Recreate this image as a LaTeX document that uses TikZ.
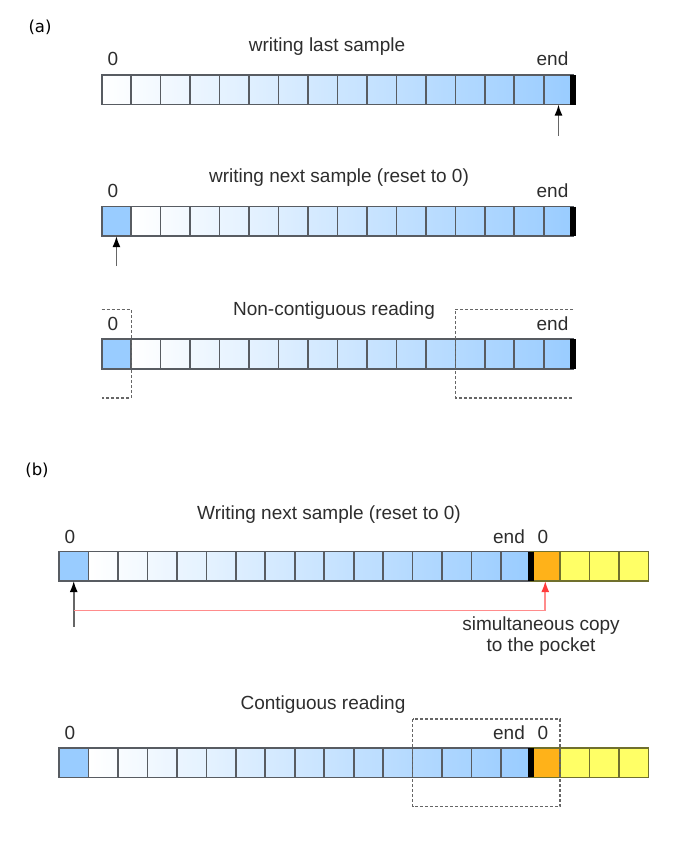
\documentclass[tikz,border=0pt]{standalone}
\usepackage{fontspec}
\setmainfont{Liberation Sans}
\newfontfamily\tagfont{DejaVu Sans}
\usepackage{tikz}
\usetikzlibrary{arrows,arrows.meta,positioning}

\definecolor{cellblue}{RGB}{153,204,255}
\definecolor{pocket}{RGB}{255,178,25}
\definecolor{spare}{RGB}{255,255,102}
\definecolor{copyline}{RGB}{255,140,140}
\definecolor{copyhead}{RGB}{255,60,60}
\definecolor{txt}{RGB}{45,45,45}
\definecolor{celledge}{RGB}{88,92,98}
\definecolor{spareedge}{RGB}{112,112,45}

\tikzset{
	cell/.style={minimum size=29.47pt, inner sep=0pt, outer sep=0pt},
	edge/.style={draw=celledge, line width=1.6pt},
	spareline/.style={draw=spareedge, line width=1.6pt},
	caption/.style={font=\fontsize{19}{22}\selectfont, text=txt, inner sep=0pt},
	tag/.style={font=\tagfont\fontsize{16.5}{20}\selectfont, inner sep=0pt},
	ptr/.style={draw=black!60, line width=1.6pt, -{Latex[length=11pt,width=8pt,color=black]}},
	copy/.style={draw=copyline, line width=1.6pt, -{Latex[length=11pt,width=8pt,color=copyhead]}},
	window/.style={draw=black!60, line width=1.1pt, dash pattern=on 3pt off 2pt},
	endmark/.style={line width=6pt, draw=black},
}

\begin{document}
\begin{tikzpicture}[x=1pt, y=-1pt]
	\useasboundingbox (0,0) rectangle (688,842);

	% (a)
	\node[tag] (taga) at (40,27) {(a)};

	% writing last sample
	\node[caption] (wltitle) at (327,47) {writing last sample};
	\foreach \i in {1,...,16} {
		\pgfmathtruncatemacro\lo{100*(\i-1)/16}
		\pgfmathtruncatemacro\hi{100*\i/16}
		\node[cell, left color=cellblue!\lo!white, right color=cellblue!\hi!white] (wl\i) at ({101.7+(\i-0.5)*29.47}, 89.8) {};
	}
	\foreach \i in {1,...,16} \draw[edge] (wl\i.north west) rectangle (wl\i.south east);
	\draw[endmark] (wl16.north east) -- (wl16.south east);
	\node[caption] (wlzero) at (113,59) {0};
	\node[caption] (wlend) at (552.5,59) {end};
	\coordinate (wlptr) at (wl16.south |- 0,136);
	\draw[ptr] (wlptr) -- (wl16.south);

	% writing next sample
	\node[caption] (wntitle) at (339,178) {writing next sample (reset to 0)};
	\node[cell, fill=cellblue] (wn1) at ({101.7+0.5*29.47}, 221.4) {};
	\foreach \i in {2,...,16} {
		\pgfmathtruncatemacro\lo{100*(\i-2)/15}
		\pgfmathtruncatemacro\hi{100*(\i-1)/15}
		\node[cell, left color=cellblue!\lo!white, right color=cellblue!\hi!white] (wn\i) at ({101.7+(\i-0.5)*29.47}, 221.4) {};
	}
	\foreach \i in {1,...,16} \draw[edge] (wn\i.north west) rectangle (wn\i.south east);
	\draw[endmark] (wn16.north east) -- (wn16.south east);
	\node[caption] (wnzero) at (113,191) {0};
	\node[caption] (wnend) at (552.5,191) {end};
	\coordinate (wnptr) at (wn1.south |- 0,266);
	\draw[ptr] (wnptr) -- (wn1.south);

	% non-contiguous reading
	\node[caption] (nctitle) at (334,311) {Non-contiguous reading};
	\node[cell, fill=cellblue] (nc1) at ({101.7+0.5*29.47}, 354) {};
	\foreach \i in {2,...,16} {
		\pgfmathtruncatemacro\lo{100*(\i-2)/15}
		\pgfmathtruncatemacro\hi{100*(\i-1)/15}
		\node[cell, left color=cellblue!\lo!white, right color=cellblue!\hi!white] (nc\i) at ({101.7+(\i-0.5)*29.47}, 354) {};
	}
	\foreach \i in {1,...,16} \draw[edge] (nc\i.north west) rectangle (nc\i.south east);
	\draw[endmark] (nc16.north east) -- (nc16.south east);
	\node[caption] (nczero) at (113,324) {0};
	\node[caption] (ncend) at (552.5,324) {end};
	\coordinate (nctop) at (0,309.3);
	\coordinate (ncbot) at (0,398);
	\draw[window] (nc1.west |- nctop) -- (nc1.east |- nctop) -- (nc1.east |- ncbot) -- (nc1.west |- ncbot);
	\draw[window] (nc16.east |- nctop) -- (nc13.west |- nctop) -- (nc13.west |- ncbot) -- (nc16.east |- ncbot);

	% (b)
	\node[tag] (tagb) at (37,470) {(b)};

	% writing next sample with pocket
	\node[caption] (wptitle) at (329,515) {Writing next sample (reset to 0)};
	\node[cell, fill=cellblue] (wp1) at ({59+0.5*29.47}, 566.3) {};
	\foreach \i in {2,...,16} {
		\pgfmathtruncatemacro\lo{100*(\i-2)/15}
		\pgfmathtruncatemacro\hi{100*(\i-1)/15}
		\node[cell, left color=cellblue!\lo!white, right color=cellblue!\hi!white] (wp\i) at ({59+(\i-0.5)*29.47}, 566.3) {};
	}
	\node[cell, fill=pocket] (wpo) at ({59+16.5*29.47}, 566.3) {};
	\foreach \i in {1,2,3} {
		\node[cell, fill=spare] (wps\i) at ({59+(16.5+\i)*29.47}, 566.3) {};
	}
	\foreach \i in {1,...,16} \draw[edge] (wp\i.north west) rectangle (wp\i.south east);
	\draw[spareline] (wpo.north west) rectangle (wpo.south east);
	\foreach \i in {1,2,3} \draw[spareline] (wps\i.north west) rectangle (wps\i.south east);
	\draw[endmark] (wp16.north east) -- (wp16.south east);
	\node[caption] (wpzero) at (70,537) {0};
	\node[caption] (wpend) at (509,537) {end};
	\node[caption] (wpozero) at (543,537) {0};
	\coordinate (wpptr) at (wp1.south |- 0,626.7);
	\coordinate (wpbend) at (wp1.south |- 0,610.5);
	\draw[ptr] (wpptr) -- (wp1.south);
	\draw[copy] (wpbend) -| (wpo.south);
	\node[caption] (wpnote) at (541,626) {simultaneous copy};
	\node[caption] (wpnote2) at (541,647) {to the pocket};

	% contiguous reading
	\node[caption] (crtitle) at (323,705) {Contiguous reading};
	\node[cell, fill=cellblue] (cr1) at ({59+0.5*29.47}, 762.7) {};
	\foreach \i in {2,...,16} {
		\pgfmathtruncatemacro\lo{100*(\i-2)/15}
		\pgfmathtruncatemacro\hi{100*(\i-1)/15}
		\node[cell, left color=cellblue!\lo!white, right color=cellblue!\hi!white] (cr\i) at ({59+(\i-0.5)*29.47}, 762.7) {};
	}
	\node[cell, fill=pocket] (cro) at ({59+16.5*29.47}, 762.7) {};
	\foreach \i in {1,2,3} {
		\node[cell, fill=spare] (crs\i) at ({59+(16.5+\i)*29.47}, 762.7) {};
	}
	\foreach \i in {1,...,16} \draw[edge] (cr\i.north west) rectangle (cr\i.south east);
	\draw[spareline] (cro.north west) rectangle (cro.south east);
	\foreach \i in {1,2,3} \draw[spareline] (crs\i.north west) rectangle (crs\i.south east);
	\draw[endmark] (cr16.north east) -- (cr16.south east);
	\node[caption] (crzero) at (70,733) {0};
	\node[caption] (crend) at (509,733) {end};
	\node[caption] (crozero) at (543,733) {0};
	\coordinate (crtop) at (0,719);
	\coordinate (crbot) at (0,806.7);
	\draw[window] (cr13.west |- crtop) rectangle (cro.east |- crbot);
\end{tikzpicture}
\end{document}
